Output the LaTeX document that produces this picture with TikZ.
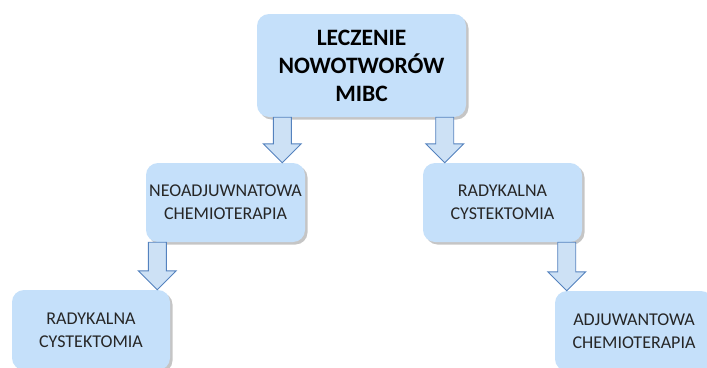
\documentclass[tikz,border=0pt]{standalone}
\usepackage{fontspec}
\setmainfont{Carlito}
\usetikzlibrary{shadows,calc}
\definecolor{boxfill}{RGB}{197,224,250}
\definecolor{arrfill}{RGB}{205,225,245}
\definecolor{arrline}{RGB}{84,130,190}
\tikzset{
  box/.style={draw=none, fill=boxfill, rounded corners=12pt, align=center,
    text=black!85, font=\fontsize{18}{23}\selectfont, inner sep=0pt,
    drop shadow={shadow xshift=2.5pt, shadow yshift=-2.5pt, fill=black!45, opacity=0.5}},
  barrow/.style={draw=arrline, fill=arrfill, line width=0.9pt, line join=miter}
}
\begin{document}
\begin{tikzpicture}[x=1pt,y=-1pt]
\useasboundingbox (0,0) rectangle (707,367);
\node[box, minimum width=209pt, minimum height=103pt, font=\bfseries\fontsize{23.5}{28}\selectfont, text=black] (top) at (361.5,65.5) {LECZENIE\\NOWOTWORÓW\\MIBC};
\node[box, minimum width=159pt, minimum height=79pt] (neo) at (225.5,202.5) {NEOADJUWNATOWA\\CHEMIOTERAPIA};
\node[box, minimum width=159pt, minimum height=79pt] (rad) at (502.5,202.5) {RADYKALNA\\CYSTEKTOMIA};
\node[box, minimum width=158pt, minimum height=80pt] (radl) at (91,330) {RADYKALNA\\CYSTEKTOMIA};
\node[box, minimum width=158pt, minimum height=80pt] (adj) at (634,331) {ADJUWANTOWA\\CHEMIOTERAPIA};
% block arrows
\newcommand\blockarr[2]{%
  \draw[barrow] let \p1=(#1), \p2=(#2) in
    (\x1-9pt,\y1) -- (\x1+9pt,\y1) -- (\x1+9pt,\y2+19pt) -- (\x1+19pt,\y2+19pt)
    -- (\x1,\y2) -- (\x1-19pt,\y2+19pt) -- (\x1-9pt,\y2+19pt) -- cycle;}
\coordinate (a1s) at ($(top.south west)+(25.5,0)$);
\coordinate (a1e) at (a1s |- neo.north);
\coordinate (a2s) at ($(top.south east)+(-21.5,0)$);
\coordinate (a2e) at (a2s |- rad.north);
\coordinate (a3s) at ($(neo.south west)+(11.5,0)$);
\coordinate (a3e) at (a3s |- radl.north);
\coordinate (a4s) at ($(rad.south east)+(-15.5,0)$);
\coordinate (a4e) at (a4s |- adj.north);
\blockarr{a1s}{a1e}
\blockarr{a2s}{a2e}
\blockarr{a3s}{a3e}
\blockarr{a4s}{a4e}
\end{tikzpicture}
\end{document}
